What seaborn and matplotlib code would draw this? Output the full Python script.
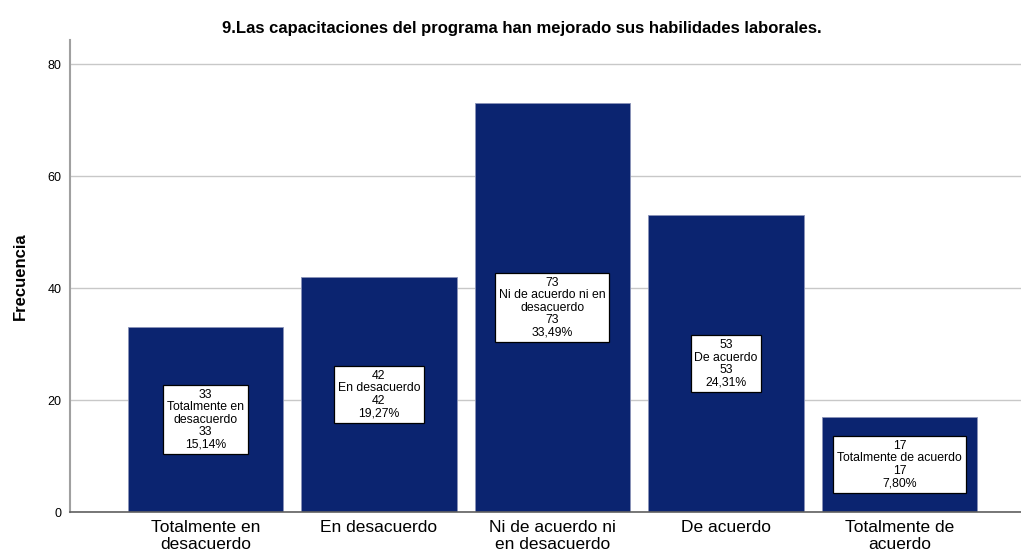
import matplotlib
matplotlib.use("Agg")
import matplotlib.pyplot as plt
import seaborn as sns
import pandas as pd

categorias = ["Totalmente en\ndesacuerdo", "En desacuerdo", "Ni de acuerdo ni\nen desacuerdo",
              "De acuerdo", "Totalmente de\nacuerdo"]
etiquetas_caja = ["Totalmente en\ndesacuerdo", "En desacuerdo", "Ni de acuerdo ni en\ndesacuerdo",
                  "De acuerdo", "Totalmente de acuerdo"]
frecuencias = [33, 42, 73, 53, 17]
porcentajes = ["15,14%", "19,27%", "33,49%", "24,31%", "7,80%"]

sns.set_style("white")
plt.rcParams["font.family"] = ["Liberation Sans", "DejaVu Sans"]
plt.rcParams["text.color"] = "black"
plt.rcParams["xtick.color"] = "black"
plt.rcParams["ytick.color"] = "black"
plt.rcParams["axes.labelcolor"] = "black"

df = pd.DataFrame({"categoria": categorias, "frecuencia": frecuencias})

fig = plt.figure(figsize=(10.21, 5.59), dpi=100)
ax = fig.add_axes([0.0686, 0.084, 0.9314, 0.844])

ax.grid(axis="y", color="#c8c8c8", linewidth=1)
ax.set_axisbelow(True)
sns.barplot(data=df, x="categoria", y="frecuencia", color="#0b2470", saturation=1,
            width=0.895, edgecolor="#8a93b8", linewidth=0.6, ax=ax)

for i, (f, lab, p) in enumerate(zip(frecuencias, etiquetas_caja, porcentajes)):
    ax.text(i, f / 2, f"{f}\n{lab}\n{f}\n{p}", ha="center", va="center", fontsize=8.8,
            linespacing=1.05,
            bbox=dict(boxstyle="square,pad=0.3", facecolor="white", edgecolor="black", linewidth=0.9))

ax.set_xlim(-0.78, 4.70)
ax.set_ylim(0, 84.3)
ax.set_yticks([0, 20, 40, 60, 80])
ax.tick_params(axis="y", labelsize=9, length=0, pad=6)
ax.tick_params(axis="x", labelsize=12.5, length=0, pad=6)
for t in ax.get_xticklabels():
    t.set_linespacing(1.15)
ax.set_xlabel("")
ax.set_ylabel("Frecuencia", fontsize=12, fontweight="bold", labelpad=14)
ax.set_title("9.Las capacitaciones del programa han mejorado sus habilidades laborales.",
             fontsize=12, fontweight="bold", pad=5, x=0.475)

for s in ["top", "right"]:
    ax.spines[s].set_visible(False)
ax.spines["left"].set_color("#a0a0a0")
ax.spines["left"].set_linewidth(1.5)
ax.spines["bottom"].set_color("#606060")
ax.spines["bottom"].set_linewidth(1.2)

fig.savefig("out.png", dpi=100)
